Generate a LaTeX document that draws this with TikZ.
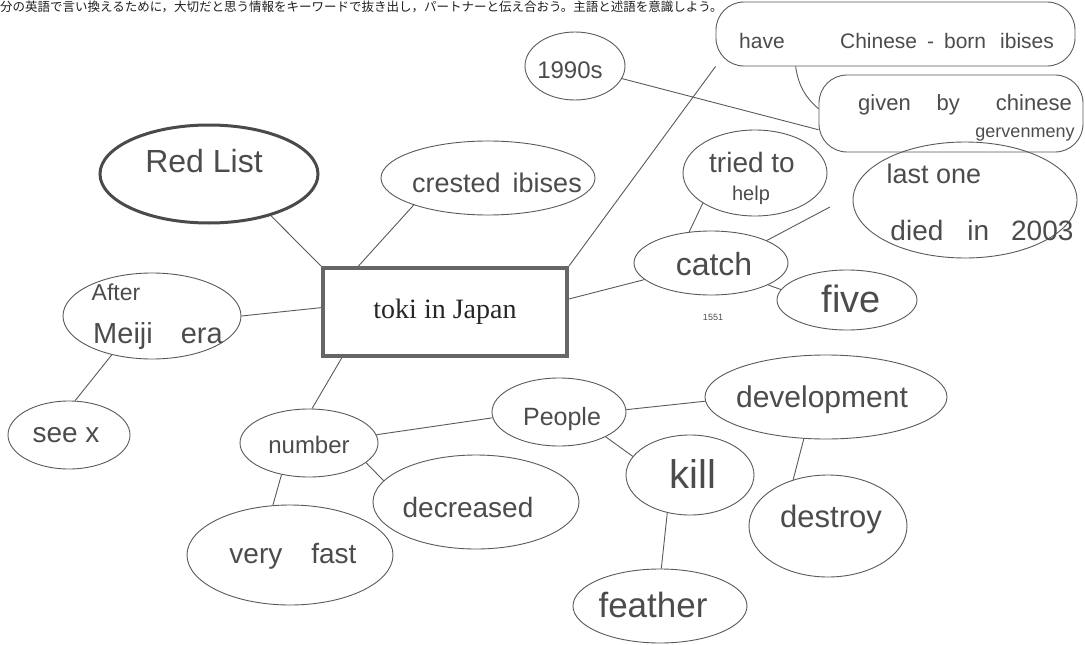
\documentclass[tikz,border=0pt]{standalone}
\usepackage{fontspec}
\setmainfont{Liberation Serif}
\newfontfamily\hand{Liberation Sans}
\newfontfamily\jpfont{Noto Sans CJK JP}
\usetikzlibrary{shapes.geometric}
\definecolor{ink}{HTML}{4C4C4C}
\definecolor{pen}{HTML}{5A5A5A}
\definecolor{boxc}{HTML}{666666}
\definecolor{redc}{HTML}{4A4A4A}
\begin{document}
\begin{tikzpicture}[x=1pt,y=-1pt,
  oval/.style 2 args={ellipse, draw=pen, line width=0.9pt, inner sep=0pt, minimum width=#1, minimum height=#2},
  bubble/.style 2 args={rectangle, rounded corners=28pt, draw=pen, line width=0.9pt, inner sep=0pt, minimum width=#1, minimum height=#2},
  hw/.style={font=\hand\fontsize{#1}{#1}\selectfont, text=ink, inner sep=0pt, anchor=base},
  con/.style={draw=pen, line width=0.9pt},
]
\useasboundingbox[fill=white] (0,0) rectangle (1085,645);

% header
\node[font=\jpfont\fontsize{12.5}{12.5}\selectfont, text=black!88, inner sep=0pt, anchor=base west] (header) at (0,12)
  {分の英語で言い換えるために，大切だと思う情報をキーワードで抜き出し，パートナーと伝え合おう。主語と述語を意識しよう。};

% central box
\node[draw=boxc, line width=4pt, minimum width=244, minimum height=88, inner sep=0pt,
      font=\fontsize{28}{28}\selectfont, text=black!85] (box) at (445,312) {toki in Japan};

% shapes
\node[ellipse, draw=redc, line width=3pt, inner sep=0pt, minimum width=218, minimum height=98] (redlist) at (209,174) {};
\node[oval={214}{74}] (crested) at (488,178) {};
\node[oval={178}{86}] (meiji) at (152,316) {};
\node[oval={122}{68}] (seex) at (69,435) {};
\node[oval={138}{68}] (number) at (309,443) {};
\node[oval={206}{100}] (veryfast) at (290,555) {};
\node[oval={206}{94}] (decreased) at (476,502) {};
\node[oval={134}{68}] (people) at (559,412) {};
\node[oval={128}{80}] (kill) at (690,475) {};
\node[oval={242}{84}] (development) at (826,397) {};
\node[oval={158}{102}] (destroy) at (828,526) {};
\node[oval={174}{74}] (feather) at (660,606) {};
\node[oval={154}{64}] (catch) at (711,263) {};
\node[oval={144}{86}] (tried) at (755,173) {};
\node[oval={140}{60}] (five) at (847,300) {};
\node[oval={224}{116}] (lastone) at (965,200) {};
\node[oval={100}{68}] (y1990) at (575,66) {};
\node[bubble={359}{64}] (have) at (895.5,34) {};
\node[bubble={264}{77}] (given) at (951,113.5) {};
\coordinate (lastend) at (830,207);

% texts
\node[hw=32] (t-redlist) at (204,172) {Red List};
\node[hw=27] (t-crested) at (497,192) {crested\hspace{12pt}ibises};
\node[hw=23] (t-after) at (116,300) {After};
\node[hw=29] (t-meiji) at (158,343) {Meiji\hspace{28pt}era};
\node[hw=28] (t-seex) at (66,442) {see x};
\node[hw=24] (t-number) at (309,453) {number};
\node[hw=28] (t-veryfast) at (293,563) {very\hspace{29pt}fast};
\node[hw=28] (t-decreased) at (468,517) {decreased};
\node[hw=25] (t-people) at (562,425) {People};
\node[hw=40] (t-kill) at (693,488) {kill};
\node[hw=30] (t-development) at (822,407) {development};
\node[hw=31] (t-destroy) at (831,527) {destroy};
\node[hw=35] (t-feather) at (653,617) {feather};
\node[hw=32] (t-catch) at (714,275) {catch};
\node[hw=9] (t-1551) at (713,320) {1551};
\node[hw=28] (t-tried) at (752,172) {tried to};
\node[hw=20] (t-help) at (751,200) {help};
\node[hw=38] (t-five) at (851,312) {five};
\node[hw=27] (t-lastone) at (934,183) {last one};
\node[hw=28] (t-died) at (982,240) {died\hspace{24pt}in\hspace{22pt}2003};
\node[hw=24] (t-1990) at (570,78) {1990s};
\node[hw=21] (t-have) at (762,48) {have};
\node[hw=21] (t-chinese) at (947,48) {Chinese\hspace{10pt}-\hspace{10pt}born\hspace{14pt}ibises};
\node[hw=22] (t-given) at (965,110) {given\hspace{26pt}by\hspace{36pt}chinese};
\node[hw=18] (t-gov) at (1025,137) {gervenmeny};

% connectors
\draw[con] (redlist.-34) -- (box.north west);
\draw[con] (crested.200) -- (box.152);
\draw[con] (meiji.0) -- (box.178);
\draw[con] (meiji.224) -- (seex.80);
\draw[con] (box.204) -- (number.85);
\draw[con] (number.229) -- (veryfast.109);
\draw[con] (number.-19) -- (decreased.167);
\draw[con] (number.7) -- (people.185);
\draw[con] (people.-28) -- (kill.162);
\draw[con] (people.2) -- (development.182);
\draw[con] (development.242) -- (destroy.127);
\draw[con] (kill.239) -- (feather.88);
\draw[con] (box.6) -- (catch.194);
\draw[con] (box.north east) -- (have.south west);
\draw[con] (have.198) to[bend right=20] (given.178);
\draw[con] (y1990.-15) -- (given.187);
\draw[con] (tried.210) -- (catch.125);
\draw[con] (catch.22) -- (lastend);
\draw[con] (catch.-21) -- (five.171);
\end{tikzpicture}
\end{document}
